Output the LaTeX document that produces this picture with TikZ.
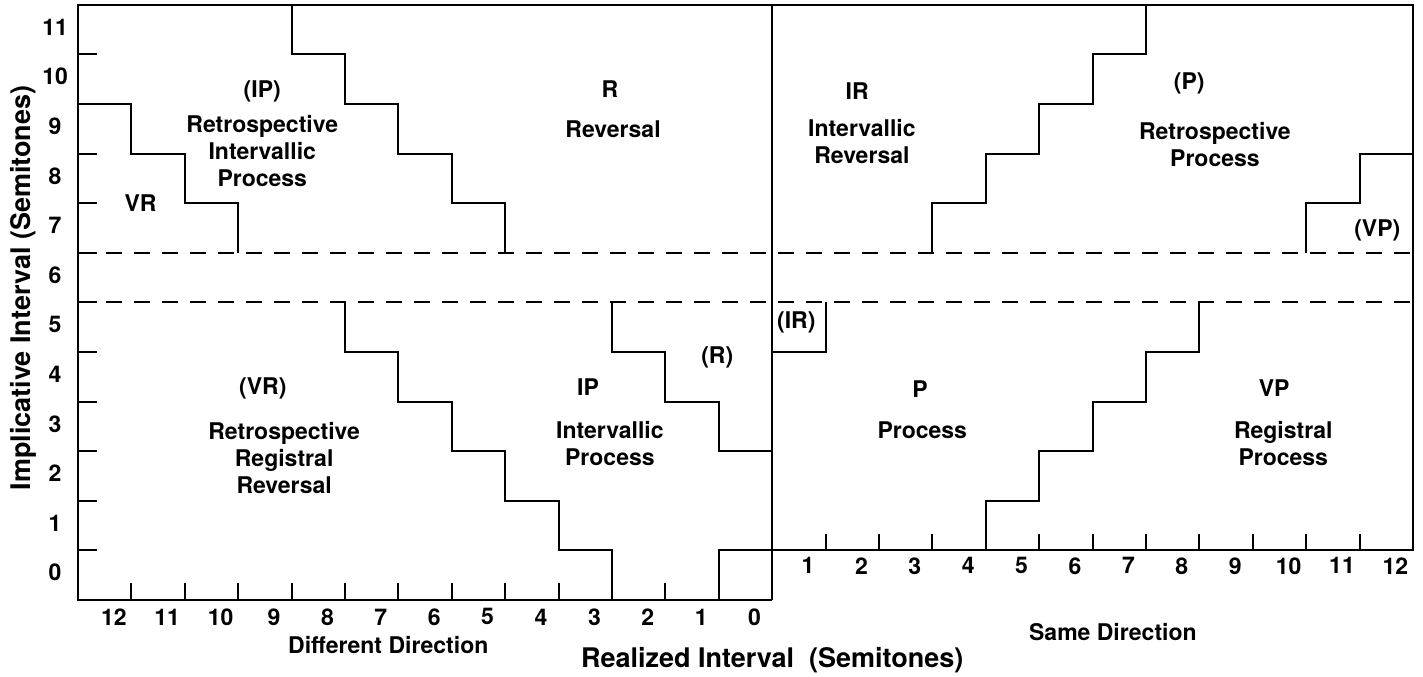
\documentclass[tikz,border=0pt]{standalone}
\usepackage{fontspec}
\setmainfont{TeX Gyre Heros}
\usepackage{tikz}
\usetikzlibrary{positioning}

\tikzset{
  lbl/.style={font=\bfseries\fontsize{11.5}{13.6}\selectfont, align=center, inner sep=0pt},
  axlbl/.style={font=\bfseries\fontsize{13.5}{16}\selectfont, inner sep=0pt},
  bound/.style={line width=1pt},
  split/.style={line width=1pt, dash pattern=on 8pt off 6pt},
}

\begin{document}
\begin{tikzpicture}[x=26.7pt, y=24.8pt]
        \useasboundingbox (-1.461,-1.532) rectangle (25.187,12.097);

        % Frame of both panels
        \draw[bound] (13,0) -- (0,0) -- (0,12) -- (25,12) -- (25,1) -- (12,1) -- (12,0);
        \draw[bound] (13,0) -- (13,12);

        % Ticks
        \foreach \k in {1,...,11} \draw[bound] (0,\k) -- (0.36,\k);
        \foreach \k in {1,...,12} \draw[bound] (\k,0) -- (\k,0.34);
        \foreach \k in {14,...,24} \draw[bound] (\k,1) -- (\k,1.34);

        % Tritone band
        \draw[split] (0,6) -- (25,6);
        \draw[split] (0,7) -- (25,7);

        % Staircases, different direction
        \draw[bound] (0,10) -- (1,10) -- (1,9) -- (2,9) -- (2,8) -- (3,8) -- (3,7);
        \draw[bound] (4,12) -- (4,11) -- (5,11) -- (5,10) -- (6,10) -- (6,9) -- (7,9) -- (7,8) -- (8,8) -- (8,7);
        \draw[bound] (5,6) -- (5,5) -- (6,5) -- (6,4) -- (7,4) -- (7,3) -- (8,3) -- (8,2) -- (9,2) -- (9,1) -- (10,1) -- (10,0);
        \draw[bound] (10,6) -- (10,5) -- (11,5) -- (11,4) -- (12,4) -- (12,3) -- (13,3);

        % Staircases, same direction
        \draw[bound] (16,7) -- (16,8) -- (17,8) -- (17,9) -- (18,9) -- (18,10) -- (19,10) -- (19,11) -- (20,11) -- (20,12);
        \draw[bound] (23,7) -- (23,8) -- (24,8) -- (24,9) -- (25,9);
        \draw[bound] (13,5) -- (14,5) -- (14,6);
        \draw[bound] (17,1) -- (17,2) -- (18,2) -- (18,3) -- (19,3) -- (19,4) -- (20,4) -- (20,5) -- (21,5) -- (21,6);

        % Axis numbers
        \foreach \k in {0,...,11} \node[lbl] (yl\k) at (-0.43,\k+0.55) {\k};
        \foreach \k in {0,...,12} \node[lbl] (xl\k) at (12.67-\k,-0.34) {\k};
        \foreach \k in {1,...,12} \node[lbl] (xr\k) at (12.67+\k,0.69) {\k};

        % Axis titles
        \node[axlbl, rotate=90] (ytitle) at (-1.03,6.29) {Implicative Interval (Semitones)};
        \node[axlbl] (xtitle) at (13,-1.21) {Realized Interval~~(Semitones)};
        \node[lbl] (diffdir) at (5.81,-0.91) {Different Direction};
        \node[lbl] (samedir) at (19.38,-0.65) {Same Direction};

        % Region names, upper half
        \node[lbl] (vr) at (1.17,8.0) {VR};
        \node[lbl] (ipr) at (3.45,10.26) {(IP)};
        \node[lbl] (iprtext) at (3.45,9.05) {Retrospective\\Intervallic\\Process};
        \node[lbl] (r) at (9.96,10.3) {R};
        \node[lbl] (rtext) at (10.02,9.5) {Reversal};
        \node[lbl] (ir) at (14.59,10.26) {IR};
        \node[lbl] (irtext) at (14.68,9.24) {Intervallic\\Reversal};
        \node[lbl] (pr) at (20.81,10.42) {(P)};
        \node[lbl] (prtext) at (21.29,9.18) {Retrospective\\Process};
        \node[lbl] (vpr) at (24.33,7.46) {(VP)};

        % Region names, lower half
        \node[lbl] (irr) at (13.45,5.6) {(IR)};
        \node[lbl] (vrr) at (3.46,4.27) {(VR)};
        \node[lbl] (vrrtext) at (3.86,2.86) {Retrospective\\Registral\\Reversal};
        \node[lbl] (ip) at (9.55,4.29) {IP};
        \node[lbl] (iptext) at (9.96,3.15) {Intervallic\\Process};
        \node[lbl] (rr) at (11.97,4.9) {(R)};
        \node[lbl] (p) at (15.77,4.25) {P};
        \node[lbl] (ptext) at (15.81,3.43) {Process};
        \node[lbl] (vp) at (22.4,4.27) {VP};
        \node[lbl] (vptext) at (22.57,3.15) {Registral\\Process};
    \end{tikzpicture}
\end{document}
